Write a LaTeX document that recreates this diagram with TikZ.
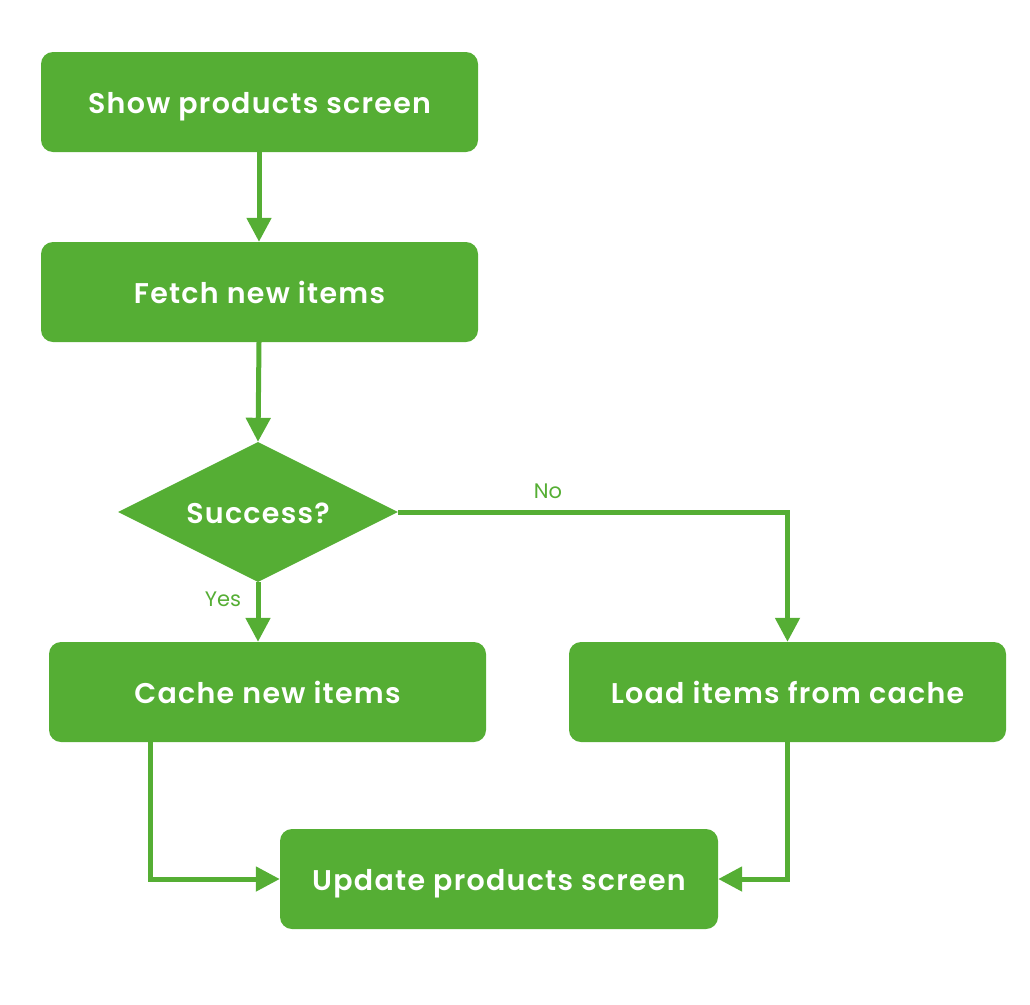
\documentclass[tikz,border=0pt]{standalone}
\usepackage{fontspec}
\setmainfont{Poppins}[BoldFont=* SemiBold]
\newfontfamily\boxfont{Poppins SemiBold}[LetterSpace=4.5]
\usetikzlibrary{shapes.geometric,arrows.meta}
\definecolor{gr}{HTML}{55AE34}
\begin{document}
\begin{tikzpicture}[x=1pt,y=-1pt,
  box/.style={fill=gr,rounded corners=12pt,minimum width=437pt,minimum height=100pt,inner sep=0pt,
    text=white,font=\fontsize{28.5}{34}\boxfont,text height=23pt,text depth=1pt},
  conn/.style={draw=gr,line width=5pt,-{Triangle[length=24pt,width=24pt]}},
  lab/.style={text=gr,font=\fontsize{21}{24}\selectfont}]
\useasboundingbox (0,0) rectangle (1030,1004);
\node[box] (show) at (259.5,102) {Show products screen};
\node[box] (fetch) at (259.5,292) {Fetch new items};
\node[diamond,fill=gr,minimum width=280pt,minimum height=140pt,aspect=2,inner sep=0pt,
  text=white,font=\fontsize{28.5}{34}\boxfont,text height=23pt,text depth=1pt] (dec) at (258,512) {Success?};
\node[box] (cache) at (267.5,692) {Cache new items};
\node[box] (load) at (787.5,692) {Load items from cache};
\node[box,minimum width=438pt] (upd) at (499,879) {Update products screen};
\draw[conn] (show.south -| 259,0) -- (fetch.north -| 259,0);
\draw[conn] (fetch.south -| 259,0) -- (dec.north);
\draw[conn] (dec.south) -- (cache.north -| dec.south);
\draw[conn] (dec.east) -| (load.north);
\draw[conn] (cache.south -| 150,0) |- (upd.west);
\draw[conn] (load.south) |- (upd.east);
\node[lab] (yes) at (223,599) {Yes};
\node[lab] (no) at (548,491) {No};
\end{tikzpicture}
\end{document}
